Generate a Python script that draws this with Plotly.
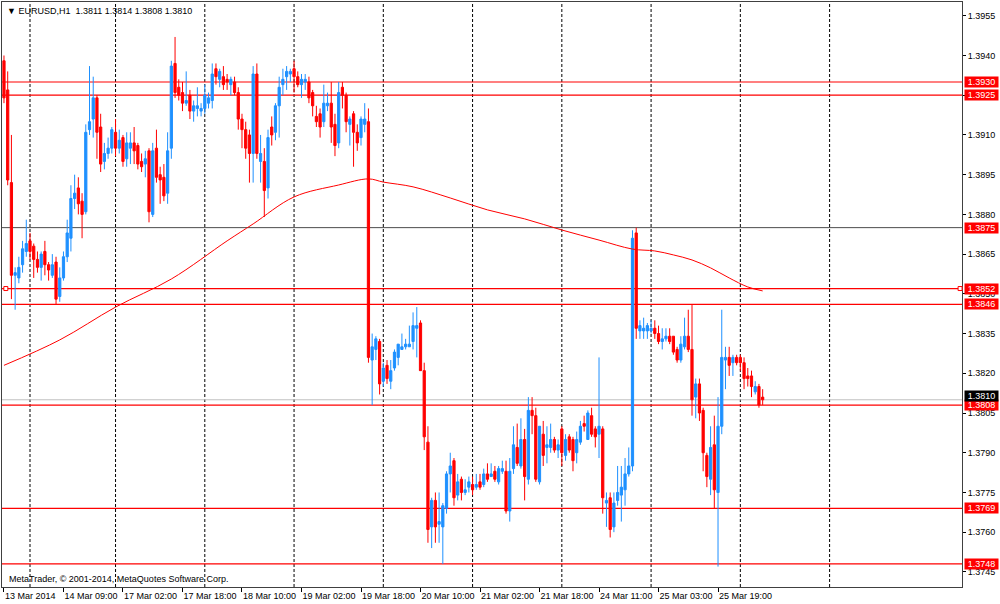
import plotly.graph_objects as go

# EURUSD H1, 13 Mar 17:00 .. 26 Mar 05:00 (bar index = position on the chart)
opens = [
    1.3938, 1.3927, 1.3892, 1.3857, 1.3856, 1.3861, 1.3866, 1.3870, 1.3868, 1.3863,
    1.3860, 1.3866, 1.3861, 1.3857, 1.3862, 1.3849, 1.3856, 1.3864, 1.3871, 1.3886,
    1.3890, 1.3885, 1.3881, 1.3912, 1.3916, 1.3924, 1.3913, 1.3900, 1.3903, 1.3905,
    1.3911, 1.3905, 1.3909, 1.3901, 1.3905, 1.3907, 1.3906, 1.3900, 1.3899, 1.3904,
    1.3880, 1.3905, 1.3895, 1.3894, 1.3888, 1.3905, 1.3937, 1.3928, 1.3926, 1.3922,
    1.3925, 1.3919, 1.3920, 1.3919, 1.3920, 1.3922, 1.3923, 1.3935, 1.3931, 1.3932,
    1.3931, 1.3929, 1.3930, 1.3926, 1.3916, 1.3912, 1.3910, 1.3903, 1.3933, 1.3900,
    1.3900, 1.3890, 1.3913, 1.3911, 1.3921, 1.3929, 1.3932, 1.3933, 1.3935, 1.3932,
    1.3929, 1.3930, 1.3930, 1.3926, 1.3917, 1.3918, 1.3915, 1.3921, 1.3922, 1.3914,
    1.3907, 1.3928, 1.3925, 1.3914, 1.3918, 1.3911, 1.3909, 1.3914, 1.3915, 1.3825,
    1.3829, 1.3832, 1.3817, 1.3823, 1.3817, 1.3822, 1.3826, 1.3829, 1.3830, 1.3830,
    1.3832, 1.3837, 1.3839, 1.3821, 1.3794, 1.3762, 1.3772, 1.3763, 1.3762, 1.3769,
    1.3782, 1.3787, 1.3774, 1.3780, 1.3775, 1.3777, 1.3778, 1.3777, 1.3779, 1.3778,
    1.3782, 1.3781, 1.3783, 1.3779, 1.3783, 1.3783, 1.3768, 1.3784, 1.3792, 1.3785,
    1.3795, 1.3780, 1.3806, 1.3804, 1.3779, 1.3797, 1.3792, 1.3792, 1.3795, 1.3791,
    1.3799, 1.3789, 1.3796, 1.3795, 1.3790, 1.3794, 1.3801, 1.3795, 1.3804, 1.3799,
    1.3797, 1.3799, 1.3771, 1.3773, 1.3762, 1.3772, 1.3774, 1.3776, 1.3782, 1.3785,
    1.3873, 1.3836, 1.3836, 1.3836, 1.3836, 1.3837, 1.3835, 1.3832, 1.3833, 1.3834,
    1.3834, 1.3829, 1.3825, 1.3830, 1.3834, 1.3829, 1.3811, 1.3816, 1.3806, 1.3789,
    1.3780, 1.3793, 1.3775, 1.3800, 1.3825, 1.3826, 1.3824, 1.3826, 1.3826, 1.3824,
    1.3819, 1.3819, 1.3813, 1.3815, 1.3811,
]
highs = [
    1.3940, 1.3934, 1.3910, 1.3860, 1.3864, 1.3870, 1.3878, 1.3873, 1.3869, 1.3866,
    1.3866, 1.3870, 1.3862, 1.3865, 1.3864, 1.3860, 1.3866, 1.3878, 1.3891, 1.3895,
    1.3894, 1.3888, 1.3914, 1.3936, 1.3932, 1.3925, 1.3918, 1.3907, 1.3909, 1.3913,
    1.3916, 1.3912, 1.3910, 1.3911, 1.3911, 1.3913, 1.3907, 1.3903, 1.3904, 1.3905,
    1.3907, 1.3912, 1.3898, 1.3899, 1.3911, 1.3938, 1.3947, 1.3931, 1.3930, 1.3934,
    1.3927, 1.3923, 1.3928, 1.3922, 1.3929, 1.3926, 1.3937, 1.3937, 1.3935, 1.3936,
    1.3933, 1.3932, 1.3932, 1.3928, 1.3918, 1.3915, 1.3912, 1.3936, 1.3937, 1.3910,
    1.3905, 1.3912, 1.3917, 1.3922, 1.3932, 1.3935, 1.3936, 1.3935, 1.3938, 1.3934,
    1.3933, 1.3933, 1.3932, 1.3927, 1.3921, 1.3920, 1.3929, 1.3926, 1.3930, 1.3918,
    1.3930, 1.3930, 1.3926, 1.3917, 1.3919, 1.3914, 1.3917, 1.3922, 1.3920, 1.3835,
    1.3834, 1.3833, 1.3824, 1.3825, 1.3825, 1.3829, 1.3831, 1.3835, 1.3833, 1.3838,
    1.3843, 1.3845, 1.3840, 1.3824, 1.3800, 1.3773, 1.3775, 1.3775, 1.3771, 1.3783,
    1.3790, 1.3788, 1.3782, 1.3781, 1.3780, 1.3781, 1.3781, 1.3782, 1.3782, 1.3784,
    1.3786, 1.3786, 1.3785, 1.3785, 1.3787, 1.3787, 1.3788, 1.3800, 1.3801, 1.3803,
    1.3799, 1.3811, 1.3811, 1.3807, 1.3800, 1.3802, 1.3800, 1.3801, 1.3796, 1.3795,
    1.3800, 1.3797, 1.3797, 1.3796, 1.3798, 1.3802, 1.3804, 1.3806, 1.3807, 1.3800,
    1.3826, 1.3800, 1.3775, 1.3775, 1.3775, 1.3785, 1.3785, 1.3788, 1.3792, 1.3874,
    1.3875, 1.3840, 1.3841, 1.3839, 1.3840, 1.3840, 1.3838, 1.3837, 1.3837, 1.3837,
    1.3834, 1.3830, 1.3834, 1.3841, 1.3844, 1.3846, 1.3818, 1.3818, 1.3807, 1.3790,
    1.3800, 1.3804, 1.3811, 1.3844, 1.3830, 1.3830, 1.3827, 1.3827, 1.3827, 1.3826,
    1.3822, 1.3821, 1.3817, 1.3816, 1.3814,
]
lows = [
    1.3922, 1.3891, 1.3848, 1.3844, 1.3854, 1.3858, 1.3864, 1.3863, 1.3856, 1.3858,
    1.3855, 1.3857, 1.3855, 1.3856, 1.3846, 1.3847, 1.3855, 1.3862, 1.3866, 1.3882,
    1.3880, 1.3871, 1.3880, 1.3910, 1.3909, 1.3901, 1.3896, 1.3897, 1.3901, 1.3903,
    1.3902, 1.3903, 1.3898, 1.3898, 1.3899, 1.3899, 1.3897, 1.3896, 1.3894, 1.3877,
    1.3879, 1.3892, 1.3884, 1.3885, 1.3884, 1.3901, 1.3924, 1.3923, 1.3919, 1.3921,
    1.3916, 1.3915, 1.3917, 1.3917, 1.3918, 1.3920, 1.3920, 1.3929, 1.3928, 1.3927,
    1.3927, 1.3925, 1.3925, 1.3912, 1.3905, 1.3901, 1.3892, 1.3892, 1.3901, 1.3892,
    1.3879, 1.3886, 1.3906, 1.3908, 1.3909, 1.3925, 1.3927, 1.3930, 1.3926, 1.3928,
    1.3924, 1.3927, 1.3922, 1.3917, 1.3913, 1.3909, 1.3913, 1.3919, 1.3907, 1.3902,
    1.3905, 1.3920, 1.3911, 1.3906, 1.3898, 1.3904, 1.3906, 1.3911, 1.3824, 1.3808,
    1.3825, 1.3812, 1.3815, 1.3816, 1.3814, 1.3821, 1.3823, 1.3829, 1.3829, 1.3830,
    1.3829, 1.3826, 1.3821, 1.3791, 1.3756, 1.3754, 1.3756, 1.3756, 1.3748, 1.3767,
    1.3775, 1.3770, 1.3772, 1.3772, 1.3774, 1.3775, 1.3774, 1.3776, 1.3776, 1.3777,
    1.3779, 1.3781, 1.3779, 1.3778, 1.3782, 1.3767, 1.3764, 1.3782, 1.3785, 1.3784,
    1.3772, 1.3778, 1.3797, 1.3779, 1.3778, 1.3785, 1.3786, 1.3790, 1.3790, 1.3788,
    1.3785, 1.3787, 1.3790, 1.3783, 1.3786, 1.3793, 1.3798, 1.3795, 1.3796, 1.3792,
    1.3788, 1.3767, 1.3762, 1.3758, 1.3760, 1.3770, 1.3764, 1.3770, 1.3781, 1.3783,
    1.3833, 1.3833, 1.3833, 1.3833, 1.3835, 1.3833, 1.3831, 1.3829, 1.3832, 1.3831,
    1.3827, 1.3824, 1.3824, 1.3829, 1.3828, 1.3804, 1.3803, 1.3802, 1.3783, 1.3777,
    1.3774, 1.3769, 1.3747, 1.3797, 1.3814, 1.3819, 1.3819, 1.3823, 1.3821, 1.3814,
    1.3815, 1.3811, 1.3812, 1.3807, 1.3808,
]
closes = [
    1.3924, 1.3893, 1.3857, 1.3858, 1.3860, 1.3867, 1.3869, 1.3866, 1.3863, 1.3860,
    1.3865, 1.3861, 1.3859, 1.3861, 1.3848, 1.3856, 1.3864, 1.3873, 1.3886, 1.3888,
    1.3884, 1.3880, 1.3911, 1.3915, 1.3924, 1.3911, 1.3899, 1.3903, 1.3905, 1.3912,
    1.3905, 1.3908, 1.3900, 1.3907, 1.3907, 1.3904, 1.3899, 1.3898, 1.3901, 1.3881,
    1.3904, 1.3894, 1.3893, 1.3887, 1.3904, 1.3936, 1.3926, 1.3925, 1.3922, 1.3923,
    1.3919, 1.3921, 1.3921, 1.3920, 1.3925, 1.3924, 1.3933, 1.3932, 1.3934, 1.3929,
    1.3930, 1.3931, 1.3926, 1.3916, 1.3912, 1.3905, 1.3903, 1.3933, 1.3903, 1.3903,
    1.3889, 1.3909, 1.3910, 1.3921, 1.3928, 1.3931, 1.3934, 1.3934, 1.3932, 1.3929,
    1.3931, 1.3931, 1.3924, 1.3921, 1.3915, 1.3913, 1.3922, 1.3922, 1.3913, 1.3906,
    1.3926, 1.3925, 1.3915, 1.3916, 1.3911, 1.3907, 1.3916, 1.3916, 1.3826, 1.3830,
    1.3833, 1.3816, 1.3822, 1.3818, 1.3821, 1.3828, 1.3831, 1.3830, 1.3831, 1.3831,
    1.3838, 1.3838, 1.3821, 1.3796, 1.3761, 1.3772, 1.3762, 1.3764, 1.3770, 1.3782,
    1.3785, 1.3773, 1.3779, 1.3775, 1.3776, 1.3779, 1.3776, 1.3778, 1.3777, 1.3782,
    1.3780, 1.3782, 1.3780, 1.3784, 1.3784, 1.3768, 1.3783, 1.3793, 1.3786, 1.3795,
    1.3781, 1.3806, 1.3804, 1.3780, 1.3800, 1.3789, 1.3793, 1.3795, 1.3791, 1.3793,
    1.3790, 1.3795, 1.3791, 1.3787, 1.3795, 1.3800, 1.3800, 1.3805, 1.3797, 1.3796,
    1.3800, 1.3773, 1.3772, 1.3761, 1.3771, 1.3775, 1.3777, 1.3782, 1.3785, 1.3871,
    1.3837, 1.3838, 1.3837, 1.3838, 1.3837, 1.3835, 1.3832, 1.3833, 1.3834, 1.3832,
    1.3828, 1.3825, 1.3831, 1.3834, 1.3829, 1.3810, 1.3816, 1.3805, 1.3790, 1.3781,
    1.3792, 1.3776, 1.3800, 1.3826, 1.3826, 1.3823, 1.3826, 1.3824, 1.3824, 1.3818,
    1.3818, 1.3815, 1.3815, 1.3808, 1.3810,
]
bars = list(range(len(closes)))

# moving average (at a few bars)
ma_bars = [0, 15, 30, 45, 60, 67, 78, 90, 98, 102, 110, 120, 130, 140,
           150, 160, 169, 175, 180, 185, 190, 195, 200, 204]
ma_vals = [1.3823, 1.38326, 1.3845, 1.38556, 1.3870, 1.38764, 1.38866, 1.38911,
           1.38934, 1.38922, 1.38904, 1.38862, 1.38817, 1.38783, 1.38741, 1.38703,
           1.38669, 1.38662, 1.38647, 1.38628, 1.38598, 1.38560, 1.38526, 1.38511]

# x axis labels
label_bars = [0, 16, 32, 48, 64, 80, 96, 112, 128, 144, 160, 176, 192]
label_text = ['13 Mar 2014', '14 Mar 09:00', '17 Mar 02:00', '17 Mar 18:00',
              '18 Mar 10:00', '19 Mar 02:00', '19 Mar 18:00', '20 Mar 10:00',
              '21 Mar 02:00', '21 Mar 18:00', '24 Mar 11:00', '25 Mar 03:00',
              '25 Mar 19:00']
# day separators (first bar of each day)
day_bars = [7, 30, 54, 78, 102, 126, 150, 174, 198, 222]

price_ticks = [round(1.3745 + 0.0015 * k, 4) for k in range(15)]
red_levels = [1.3930, 1.3925, 1.3852, 1.3846, 1.3808, 1.3769, 1.3748]
black_level = 1.3875
bid = 1.3810

FONT = 'Liberation Sans'

fig = go.Figure()

fig.add_trace(go.Scatter(
    x=ma_bars, y=ma_vals, mode='lines',
    line=dict(color='#FF0000', width=1, shape='spline'),
    showlegend=False, hoverinfo='skip'
))

fig.add_trace(go.Candlestick(
    x=bars, open=opens, high=highs, low=lows, close=closes,
    increasing=dict(line=dict(color='#1E90FF', width=1), fillcolor='#1E90FF'),
    decreasing=dict(line=dict(color='#FF0000', width=1), fillcolor='#FF0000'),
    whiskerwidth=0, showlegend=False
))

shapes = []
for d in day_bars:
    shapes.append(dict(type='line', xref='x', yref='paper', x0=d, x1=d, y0=0, y1=1,
                       line=dict(color='#000000', width=1, dash='3px,2px'), layer='below'))
for lv in red_levels:
    shapes.append(dict(type='line', xref='paper', yref='y', x0=0, x1=1, y0=lv, y1=lv,
                       line=dict(color='#FF0000', width=1.2), layer='below'))
shapes.append(dict(type='line', xref='paper', yref='y', x0=0, x1=1, y0=black_level, y1=black_level,
                   line=dict(color='#202020', width=0.8), layer='below'))
shapes.append(dict(type='line', xref='paper', yref='y', x0=0, x1=1, y0=bid, y1=bid,
                   line=dict(color='#C0C0C0', width=1), layer='below'))
# little anchor squares on the 1.3852 line
for xa in [0.004, 0.998]:
    shapes.append(dict(type='rect', xref='paper', yref='y', xsizemode='pixel', ysizemode='pixel',
                       xanchor=xa, yanchor=1.3852, x0=-2, x1=2, y0=-2, y1=2,
                       line=dict(color='#FF0000', width=1), fillcolor='white'))

annotations = []
for lv in red_levels + [black_level]:
    annotations.append(dict(xref='paper', yref='y', x=1, y=lv, xanchor='left', yanchor='middle',
                            xshift=2, text=f'{lv:.4f}', showarrow=False, bgcolor='#FF0000',
                            width=33, height=10, align='center',
                            font=dict(family=FONT, size=9, color='white'), borderpad=0))
annotations.append(dict(xref='paper', yref='y', x=1, y=bid, xanchor='left', yanchor='bottom',
                        xshift=2, yshift=-2, text=f'{bid:.4f}', showarrow=False, bgcolor='#000000',
                        width=33, height=10, align='center',
                        font=dict(family=FONT, size=9, color='white'), borderpad=0))
annotations.append(dict(xref='paper', yref='paper', x=0, y=1, xanchor='left', yanchor='top',
                        xshift=3, yshift=-2, showarrow=False,
                        text='▼ EURUSD,H1  1.3811 1.3814 1.3808 1.3810',
                        font=dict(family=FONT, size=9, color='#000000')))
annotations.append(dict(xref='paper', yref='paper', x=0, y=0, xanchor='left', yanchor='bottom',
                        xshift=5, yshift=1, showarrow=False,
                        text='MetaTrader, © 2001-2014, MetaQuotes Software Corp.',
                        font=dict(family=FONT, size=9, color='#000000')))

fig.update_layout(
    width=1000, height=604,
    margin=dict(l=2, r=38, t=2, b=17, autoexpand=False),
    paper_bgcolor='white', plot_bgcolor='white',
    font=dict(family=FONT, size=9, color='#000000'),
    shapes=shapes, annotations=annotations,
    showlegend=False, boxgap=0.15,
)
fig.update_xaxes(
    range=[-0.53, 257.6], tickvals=label_bars, ticktext=label_text,
    ticks='outside', ticklen=4, tickcolor='#000000', ticklabelposition='outside right',
    tickangle=0, automargin=False,
    showgrid=False, zeroline=False, showline=True, linecolor='#404040', mirror=True,
    rangeslider=dict(visible=False), tickfont=dict(family=FONT, size=9, color='#000000')
)
fig.update_yaxes(
    side='right', range=[1.37393, 1.39602], tickvals=price_ticks,
    ticktext=[f'{t:.4f}' for t in price_ticks], automargin=False,
    ticks='outside', ticklen=3, tickcolor='#000000',
    showgrid=False, zeroline=False, showline=True, linecolor='#404040', mirror=True,
    tickfont=dict(family=FONT, size=9, color='#000000')
)

fig.write_html("out.html", config={'displayModeBar': False},
               post_script="document.body.style.margin='0px';")
